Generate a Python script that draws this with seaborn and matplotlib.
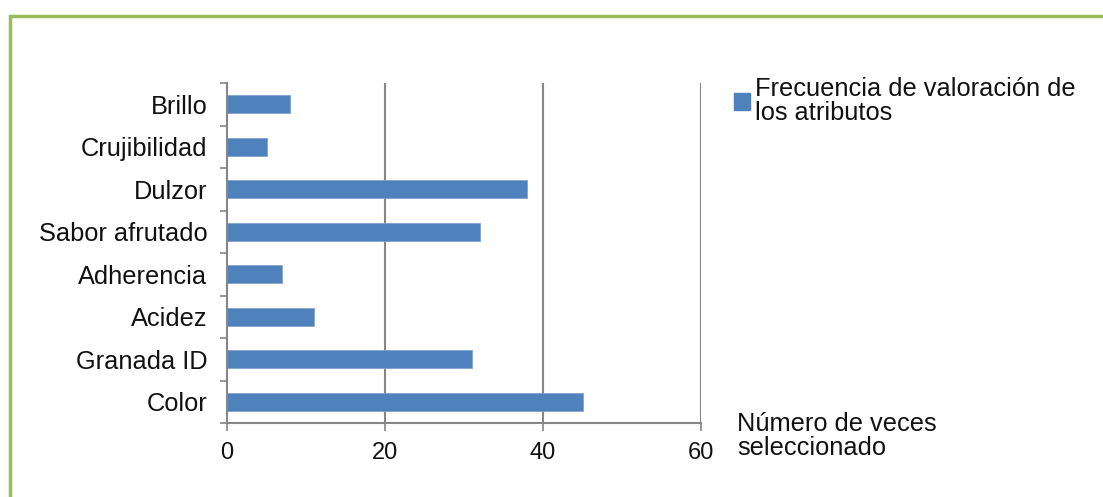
import matplotlib
matplotlib.use("Agg")
import matplotlib.pyplot as plt
import seaborn as sns
import pandas as pd
from matplotlib.patches import Rectangle, Patch
from matplotlib.ticker import FixedLocator

categories = ["Brillo", "Crujibilidad", "Dulzor", "Sabor afrutado",
              "Adherencia", "Acidez", "Granada ID", "Color"]
values = [8, 5, 38, 32, 7, 11, 31, 45]
x_ticks = [0, 20, 40, 60]
series_name = "Frecuencia de valoración de\nlos atributos"
x_title = "Número de veces\nseleccionado"

sns.set_style("white")
plt.rcParams['font.family'] = ['Liberation Sans', 'DejaVu Sans']

W, H = 1103, 497
fig = plt.figure(figsize=(W / 100, H / 100), dpi=100)
ax = fig.add_axes([227 / W, 1 - 423 / H, (701 - 227) / W, (423 - 83) / H])

df = pd.DataFrame({"cat": categories, "val": values})
bar_color = "#4F81BD"
sns.barplot(data=df, y="cat", x="val", orient="h", color=bar_color,
            width=0.42, ax=ax, saturation=1, edgecolor="#7FA3D0", linewidth=0.6)

ax.set_xlim(0, 60)
ax.set_ylim(len(categories) - 0.5, -0.5)
ax.set_xticks(x_ticks)
ax.set_xticklabels([str(t) for t in x_ticks])
ax.set_xlabel("")
ax.set_ylabel("")

grid_color = "#868686"
for t in x_ticks[1:]:
    ax.axvline(t, color=grid_color, lw=1.5, zorder=0)

for s in ["top", "right"]:
    ax.spines[s].set_visible(False)
for s in ["left", "bottom"]:
    ax.spines[s].set_color(grid_color)
    ax.spines[s].set_linewidth(1.5)

text_color = "#111111"
fs = 18.3
ax.tick_params(axis="x", direction="out", length=6, width=1.2, color=grid_color,
               pad=8, labelsize=17, labelcolor=text_color, bottom=True)
ax.tick_params(axis="y", which="major", length=0, pad=14, labelsize=fs,
               labelcolor=text_color, left=True)
ax.yaxis.set_minor_locator(FixedLocator([i - 0.5 for i in range(len(categories) + 1)]))
ax.tick_params(axis="y", which="minor", direction="out", length=5, width=1.2,
               color=grid_color, left=True)

# legend
handle = Patch(facecolor=bar_color, edgecolor=bar_color)
leg = fig.legend([handle], [series_name], loc="upper left",
                 bbox_to_anchor=(724 / W, 1 - 67 / H), frameon=False, fontsize=fs,
                 handlelength=0.62, handleheight=0.62, handletextpad=0.2,
                 labelcolor=text_color, borderaxespad=0, labelspacing=0)
for t in leg.get_texts():
    t.set_linespacing(1.0)

fig.text(737 / W, 1 - 412 / H, x_title, ha="left", va="top", fontsize=fs,
         color=text_color, linespacing=1.02)

# green frame
fig.patches.append(Rectangle((9.5 / W, -0.1), 1.2, 1 - 15.5 / H + 0.1,
                             transform=fig.transFigure, fill=False,
                             edgecolor="#9BBB59", linewidth=2.5, zorder=5))

fig.savefig("out.png", dpi=100)
